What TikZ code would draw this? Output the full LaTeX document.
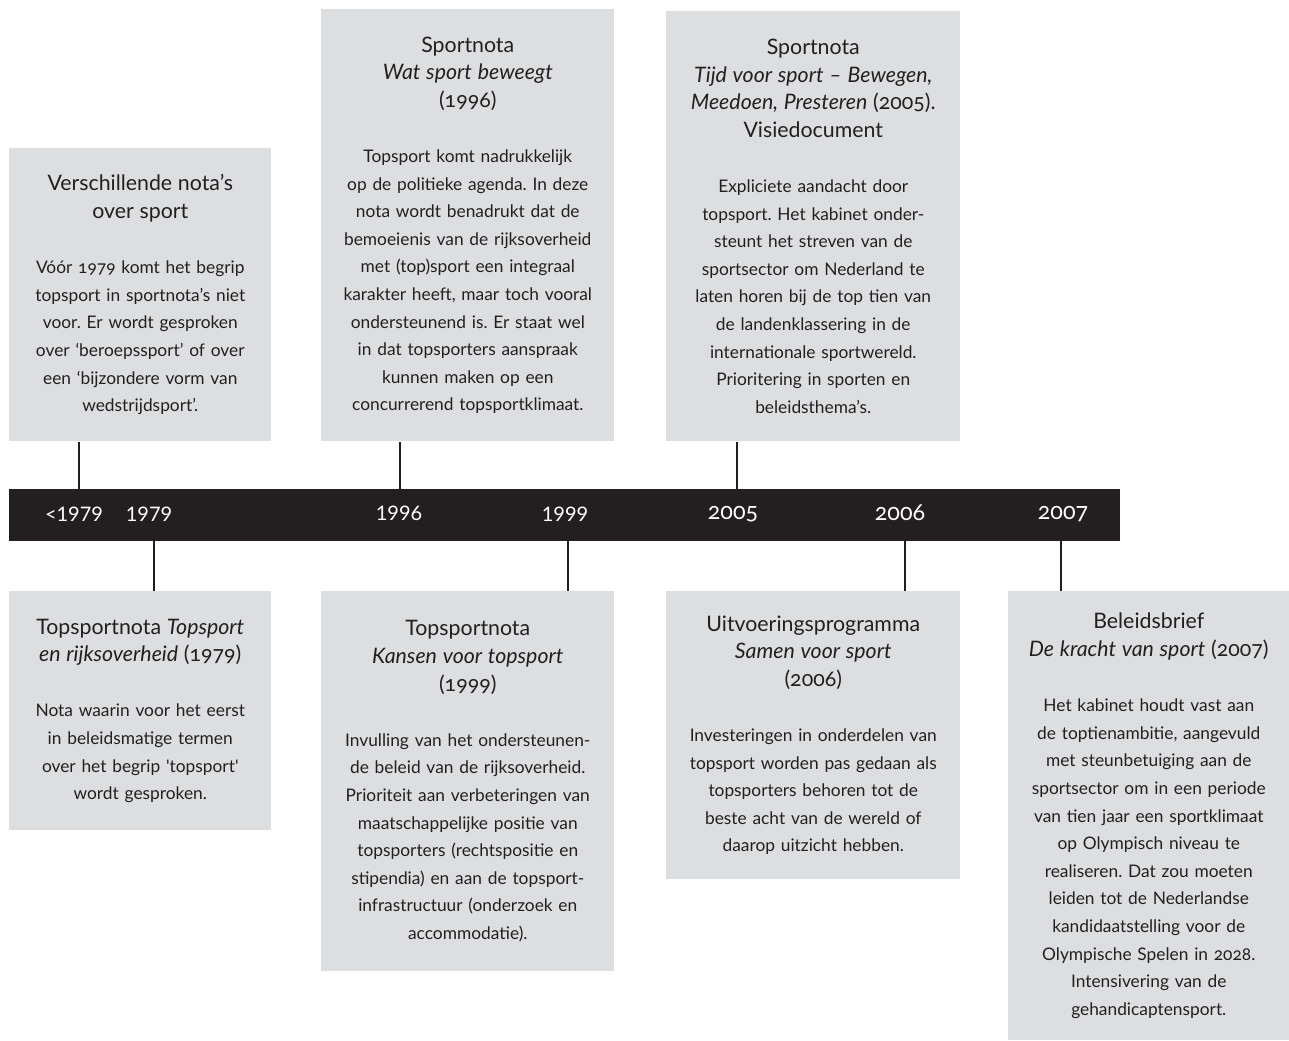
\documentclass[tikz,border=0pt]{standalone}
\usepackage{fontspec}
\setmainfont{Lato}[Numbers=OldStyle]
\usetikzlibrary{positioning}
\definecolor{boxgrey}{RGB}{221,222,224}
\definecolor{bardark}{RGB}{35,31,32}
\newcommand{\kop}{\fontsize{16}{20.7}\selectfont}
\newcommand{\lin}{\addfontfeature{Numbers=Lining}}
\frenchspacing

\begin{document}
\begin{tikzpicture}[x=0.75pt,y=-0.75pt, every node/.style={align=center},
 box/.style={fill=boxgrey,text=bardark,inner sep=0pt,anchor=north west,
  font=\fontsize{13}{20.7}\selectfont},
 year/.style={text=white,font=\fontsize{15}{18}\selectfont},
 oldyear/.style={year,font=\fontsize{17.5}{18}\selectfont},
 tick/.style={draw=bardark,line width=1.5pt}]
\useasboundingbox (0,0) rectangle (1289,1040);

% tijdbalk
\node[fill=bardark,inner sep=0pt,anchor=north west,minimum width=833.25pt,
 minimum height=39pt] (bar) at (9,489) {};
\node[year] (y0) at (74,514) {\lin <1979};
\node[year] (y1) at (149,514) {\lin 1979};
\node[year] (y2) at (399,513) {\lin 1996};
\node[year] (y3) at (565,514) {\lin 1999};
\node[oldyear] (y4) at (733,514) {2005};
\node[oldyear] (y5) at (900,513) {2006};
\node[oldyear] (y6) at (1063,514) {2007};

% boven
\node[box,text width=196.5pt,minimum height=219.75pt] (before) at (9,148)
{{\kop Verschillende nota's\\ over sport}\\[20.7pt]
V\'o\'or 1979 komt het begrip\\ topsport in sportnota's niet\\
voor. Er wordt gesproken\\ over `beroepssport' of over\\
een `bijzondere vorm van\\ wedstrijdsport'.};
\node[box,text width=219.75pt,minimum height=324pt] (sn96) at (321,9)
{{\kop Sportnota\\ \textit{Wat sport beweegt}\\ (1996)}\\[20.7pt]
Topsport komt nadrukkelijk\\ op de politieke agenda. In deze\\
nota wordt benadrukt dat de\\ bemoeienis van de rijksoverheid\\
met (top)sport een integraal\\ karakter heeft, maar toch vooral\\
ondersteunend is. Er staat wel\\ in dat topsporters aanspraak\\
kunnen maken op een\\ concurrerend topsportklimaat.};
\node[box,text width=220.5pt,minimum height=322.5pt] (sn05) at (666,11)
{{\kop Sportnota\\ \textit{Tijd voor sport -- Bewegen,}\\
\textit{Meedoen, Presteren} (2005).\\ Visiedocument}\\[20.7pt]
Expliciete aandacht door\\ topsport. Het kabinet onder-\\
steunt het streven van de\\ sportsector om Nederland te\\
laten horen bij de top tien van\\ de landenklassering in de\\
internationale sportwereld.\\ Prioritering in sporten en\\
beleidsthema's.};

% onder
\node[box,text width=196.5pt,minimum height=179.25pt] (tn79) at (9,591)
{{\kop Topsportnota \textit{Topsport}\\ \textit{en rijksoverheid} (1979)}\\[20.7pt]
Nota waarin voor het eerst\\ in beleidsmatige termen\\
over het begrip \textquotesingle topsport\textquotesingle\\ wordt gesproken.};
\node[box,text width=219.75pt,minimum height=285pt] (tn99) at (321,591)
{{\kop Topsportnota\\ \textit{Kansen voor topsport}\\ (1999)}\\[20.7pt]
Invulling van het ondersteunen-\\ de beleid van de rijksoverheid.\\
Prioriteit aan verbeteringen van\\ maatschappelijke positie van\\
topsporters (rechtspositie en\\ stipendia) en aan de topsport-\\
infrastructuur (onderzoek en\\ accommodatie).};
\node[box,text width=220.5pt,minimum height=216pt] (up06) at (666,591)
{{\kop Uitvoeringsprogramma\\ \textit{Samen voor sport}\\ (2006)}\\[20.7pt]
Investeringen in onderdelen van\\ topsport worden pas gedaan als\\
topsporters behoren tot de\\ beste acht van de wereld of\\
daarop uitzicht hebben.};
\node[box,text width=210.75pt,minimum height=336.75pt] (bb07) at (1008,591)
{{\kop Beleidsbrief\\ \textit{De kracht van sport} (2007)}\\[20.7pt]
Het kabinet houdt vast aan\\ de toptienambitie, aangevuld\\
met steunbetuiging aan de\\ sportsector om in een periode\\
van tien jaar een sportklimaat\\ op Olympisch niveau te\\
realiseren. Dat zou moeten\\ leiden tot de Nederlandse\\
kandidaatstelling voor de\\ Olympische Spelen in 2028.\\
Intensivering van de\\ gehandicaptensport.};

% verbindingen
\coordinate (p0) at (79,489);
\coordinate (p2) at (400,489);
\coordinate (p4) at (737,489);
\coordinate (q1) at (154,541);
\coordinate (q3) at (568,541);
\coordinate (q5) at (905,541);
\coordinate (q6) at (1061,541);
\draw[tick] (p0) -- (p0 |- before.south);
\draw[tick] (p2) -- (p2 |- sn96.south);
\draw[tick] (p4) -- (p4 |- sn05.south);
\draw[tick] (q1) -- (q1 |- tn79.north);
\draw[tick] (q3) -- (q3 |- tn99.north);
\draw[tick] (q5) -- (q5 |- up06.north);
\draw[tick] (q6) -- (q6 |- bb07.north);
\end{tikzpicture}
\end{document}
